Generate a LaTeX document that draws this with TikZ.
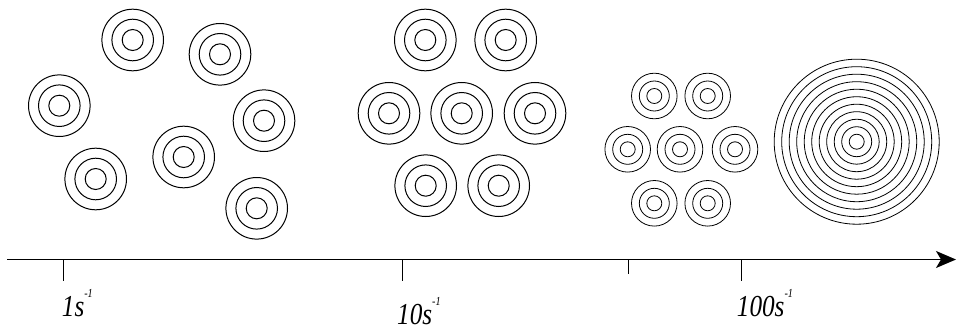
\documentclass[tikz,border=0pt]{standalone}
\usepackage{fontspec}
\setmainfont{Liberation Serif}
\usetikzlibrary{arrows.meta}

\newcommand{\rate}[1]{\scalebox{0.97}[1.17]{\itshape #1s\raisebox{16pt}{\fontsize{10.5}{10.5}\selectfont -1}}}

\begin{document}
\begin{tikzpicture}[x=1pt,y=-1pt]
\useasboundingbox (0,0) rectangle (958,329);
\tikzset{ring/.style={line width=1pt}, smallring/.style={line width=0.8pt},
  ratelabel/.style={anchor=base west, inner sep=0pt, font=\fontsize{26}{26}\selectfont}}
% slow: scattered droplets
\foreach \x/\y in {132.7/40, 220/54.3, 59.3/105.7, 264/120.7, 183.7/157, 95.7/179, 256.7/208.3}
  \foreach \r in {10.5,20.8,30.8}
    \draw[ring] (\x,\y) circle[radius=\r pt];
% medium: packed droplets
\foreach \x/\y in {425.3/40, 505.7/40, 389/113.3, 461.7/113.3, 535/113.3, 425.7/185.7, 498.7/185.7}
  \foreach \r in {10.5,20.8,30.8}
    \draw[ring] (\x,\y) circle[radius=\r pt];
% fast: small droplets
\foreach \x/\y in {654.3/96, 707.7/96, 627.7/149.3, 680/149.3, 735/149.3, 654.3/203.3, 707.7/203.3}
  \foreach \r in {7.5,15,22.8}
    \draw[smallring] (\x,\y) circle[radius=\r pt];
% merged drop
\foreach \k in {1,...,11}
  \draw[smallring] (856.7,141.7) circle[radius=7.5*\k pt];
% axis
\coordinate (start) at (7.3,259.5);
\coordinate (end) at (956,259.5);
\draw[line width=1.5pt,-{Stealth[length=20pt,width=17pt,inset=5pt]}] (start) -- (end);
\draw[line width=1pt] (63.7,259.5) -- (63.7,281);
\draw[line width=1pt] (402,259.5) -- (402,281);
\draw[line width=1pt] (628.7,259.5) -- (628.7,274.3);
\draw[line width=1pt] (741.5,259.5) -- (741.5,281);
\node[ratelabel] (one) at (61.7,316) {\rate{1}};
\node[ratelabel] (ten) at (397,324) {\rate{10}};
\node[ratelabel] (hundred) at (736.7,316.7) {\rate{100}};
\end{tikzpicture}
\end{document}
